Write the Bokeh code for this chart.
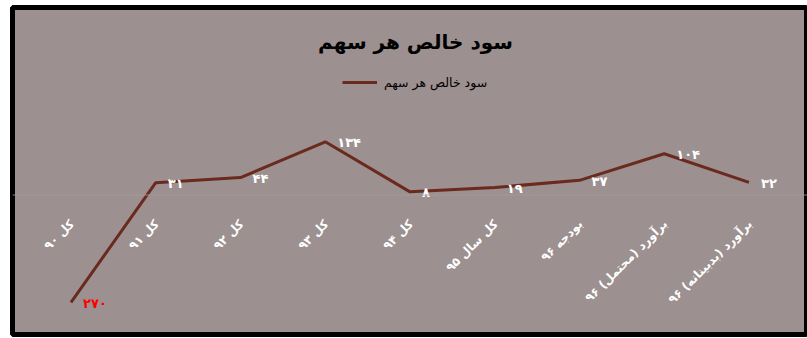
from bokeh.plotting import figure
from bokeh.models import (ColumnDataSource, FactorRange, Range1d, Label, Legend,
                          LegendItem, Span)
from bokeh.core.properties import value
from bokeh.embed import file_html
from bokeh.resources import INLINE
import math

# ---- data ----
categories = ["کل ۹۰", "کل ۹۱", "کل ۹۲", "کل ۹۳", "کل ۹۴", "کل سال ۹۵",
              "بودجه ۹۶", "برآورد (محتمل) ۹۶", "برآورد (بدبینانه) ۹۶"]
eps_values = [-270, 31, 44, 134, 8, 19, 37, 104, 32]
value_labels = ["۲۷۰", "۳۱", "۴۴", "۱۳۴", "۸", "۱۹", "۳۷", "۱۰۴", "۳۲"]
label_colors = ["#ff0000"] + ["#ffffff"] * 8
title_text = "سود خالص هر سهم"
series_name = "سود خالص هر سهم"

FONT = "DejaVu Sans"
BG = "#9c9090"
LINE = "#6a2a1e"

src = ColumnDataSource(dict(cat=categories, v=eps_values, lab=value_labels,
                            col=label_colors, zero=[0] * len(categories)))

p = figure(width=807, height=338, output_backend="svg", toolbar_location=None,
           x_range=FactorRange(factors=categories, range_padding=0.0423),
           y_range=Range1d(-351, 472),
           x_axis_location=None, y_axis_location=None,
           background_fill_color=BG, border_fill_color="white",
           min_border_left=12, min_border_top=7, min_border_bottom=4,
           min_border_right=0, outline_line_color="black",
           outline_line_width=5)
p.xgrid.visible = False
p.ygrid.visible = False

p.add_layout(Span(location=0, dimension="width", line_color="#a89e9e",
                  line_width=1, line_alpha=0.8))

r = p.line(x="cat", y="v", source=src, line_color=LINE, line_width=3)

# value labels
p.text(x="cat", y="v", text="lab", source=src, text_color="col",
       text_font=value(FONT), text_font_style="bold", text_font_size="13px",
       text_align="left", text_baseline="middle", x_offset=12, y_offset=1)

# category labels (rotated) hanging below the zero line
p.text(x="cat", y="zero", text="cat", source=src, text_color="#ffffff",
       text_font=value(FONT), text_font_style="bold", text_font_size="12px",
       text_align="right", text_baseline="middle", angle=math.pi / 4,
       x_offset=1, y_offset=27)

# title
p.add_layout(Label(x=403, y=293, x_units="screen", y_units="screen",
                   text=title_text, text_font=FONT, text_font_style="bold",
                   text_font_size="20px", text_color="#000000",
                   text_align="center", text_baseline="middle"))

legend = Legend(items=[LegendItem(label=series_name, renderers=[r])],
                location=(330, 242), orientation="horizontal",
                background_fill_alpha=0, border_line_color=None,
                padding=0, margin=0, glyph_width=35, glyph_height=20,
                label_height=20, label_standoff=7,
                label_text_font=FONT, label_text_font_size="12.5px",
                label_text_color="#000000")
p.add_layout(legend)

open("out.html", "w").write(file_html(p, INLINE))
